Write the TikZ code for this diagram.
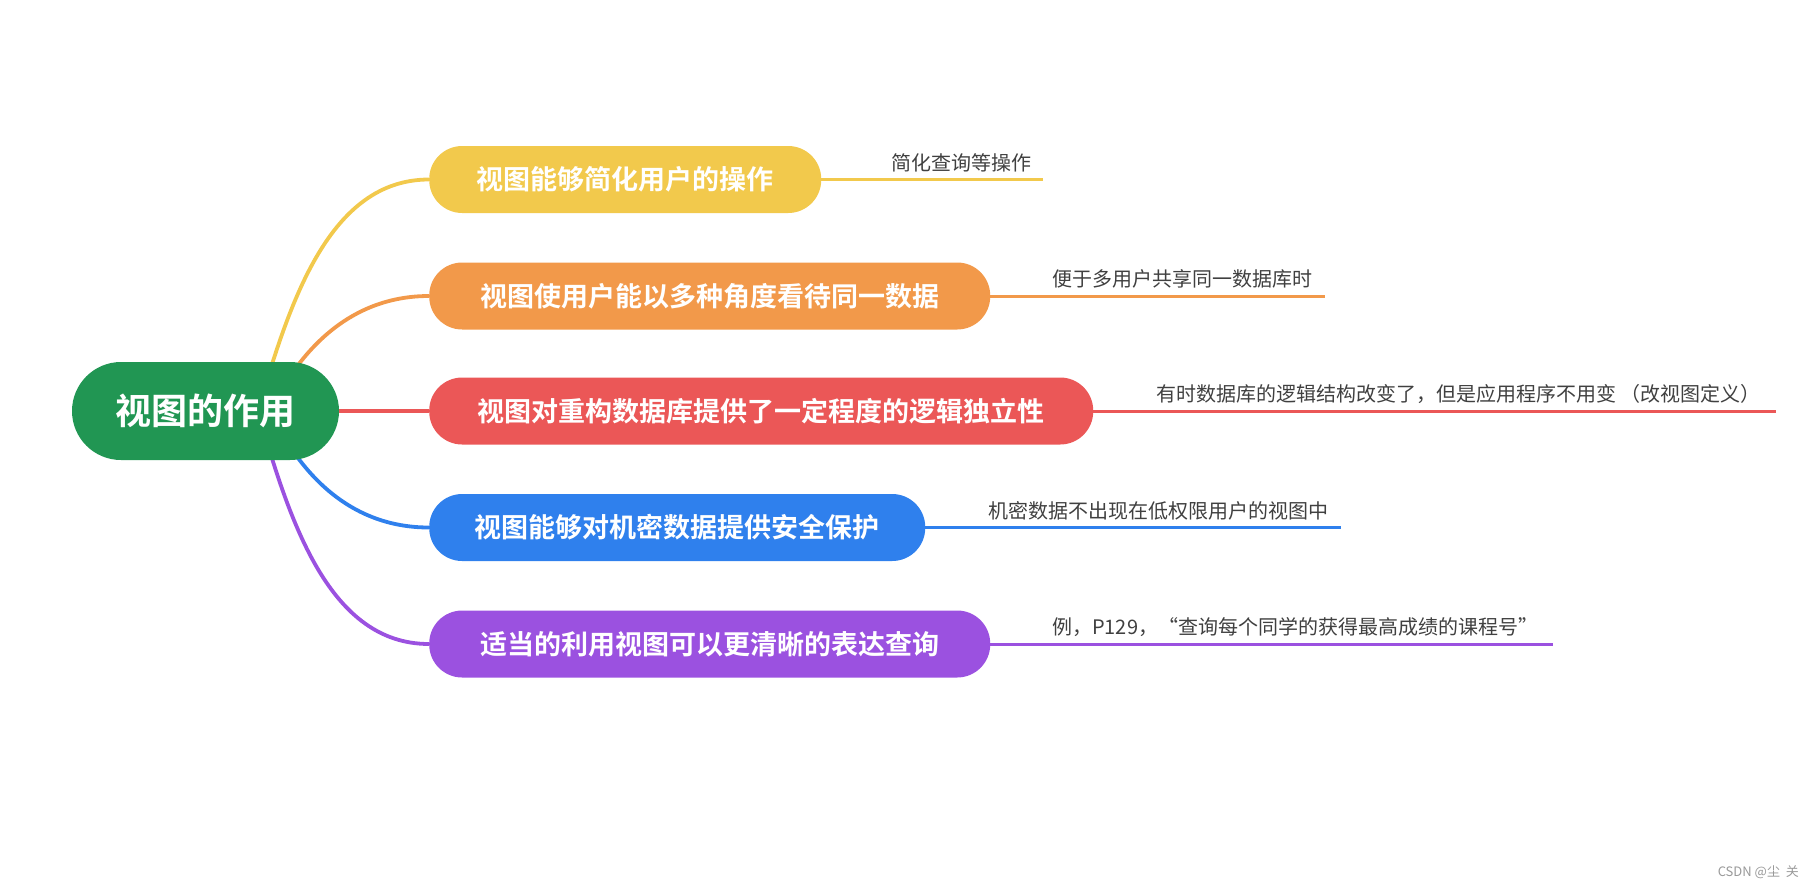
\documentclass[tikz,border=0pt]{standalone}
\usepackage{fontspec}
\setmainfont{Noto Sans CJK SC}[BoldFont={Noto Sans CJK SC Bold}]
\usetikzlibrary{calc}
\definecolor{cyel}{HTML}{F2C94C}
\definecolor{cora}{HTML}{F2994A}
\definecolor{cred}{HTML}{EB5757}
\definecolor{cblu}{HTML}{2F80ED}
\definecolor{cpur}{HTML}{9B51E0}
\definecolor{cgrn}{HTML}{219653}
\definecolor{ctxt}{HTML}{404040}
\tikzset{
  rootbox/.style={fill=cgrn, rounded corners=49pt, minimum width=267pt, minimum height=98pt, inner sep=0pt,
    text=white, font=\fontsize{36}{40}\selectfont\bfseries},
  topic/.style={fill=#1, rounded corners=33pt, minimum height=67pt, inner sep=0pt, anchor=west,
    text=white, font=\fontsize{27}{30}\selectfont\bfseries},
  branch/.style={draw=#1, line width=3.8pt},
  uline/.style={draw=#1, line width=3pt},
  note/.style={anchor=base west, inner sep=0pt, text=ctxt, font=\fontsize{20}{24}\selectfont},
}
\begin{document}
\begin{tikzpicture}[x=1pt,y=-1pt]
\useasboundingbox (0,0) rectangle (1814,887);
% hidden start points inside the root
\coordinate (sA) at (258,411);
\coordinate (sB) at (270,411);
% topic nodes
\node[topic=cyel, minimum width=392pt] (n1) at (429,179.5) {视图能够简化用户的操作};
\node[topic=cora, minimum width=561pt] (n2) at (429,296) {视图使用户能以多种角度看待同一数据};
\node[topic=cred, minimum width=664pt] (n3) at (429,411) {视图对重构数据库提供了一定程度的逻辑独立性};
\node[topic=cblu, minimum width=496pt] (n4) at (429,527.5) {视图能够对机密数据提供安全保护};
\node[topic=cpur, minimum width=561pt] (n5) at (429,644) {适当的利用视图可以更清晰的表达查询};
% branches
\draw[branch=cyel] (sA) .. controls (290,300) and (330,179.5) .. (n1.west);
\draw[branch=cora] (sB) .. controls (300,350) and (350,296) .. (n2.west);
\draw[branch=cblu] (sB) .. controls (300,474) and (350,527.5) .. (n4.west);
\draw[branch=cpur] (sA) .. controls (290,524) and (330,644) .. (n5.west);
% root
\node[rootbox] (root) at (205.5,411) {视图的作用};
\draw[branch=cred] (root.east) -- (n3.west);
% underlines
\coordinate (e1) at (1043,179.5);
\coordinate (e2) at (1325,296);
\coordinate (e3) at (1776,411);
\coordinate (e4) at (1341,527.5);
\coordinate (e5) at (1553,644);
\draw[uline=cyel] (n1.east) -- (e1);
\draw[uline=cora] (n2.east) -- (e2);
\draw[uline=cred] (n3.east) -- (e3);
\draw[uline=cblu] (n4.east) -- (e4);
\draw[uline=cpur] (n5.east) -- (e5);
% notes
\node[note] (t1) at (891,170) {简化查询等操作};
\node[note] (t2) at (1052,286.5) {便于多用户共享同一数据库时};
\node[note] (t3) at (1156,401.5) {有时数据库的逻辑结构改变了，但是应用程序不用变 （改视图定义）};
\node[note] (t4) at (988,518) {机密数据不出现在低权限用户的视图中};
\node[note] (t5) at (1052,634.5) {例，P129，“查询每个同学的获得最高成绩的课程号”};
% watermark
\node[anchor=base east, inner sep=0pt, text=black!40, font=\fontsize{13}{15}\selectfont] (wm) at (1799,876) {CSDN @尘 \ 关};
\end{tikzpicture}
\end{document}
